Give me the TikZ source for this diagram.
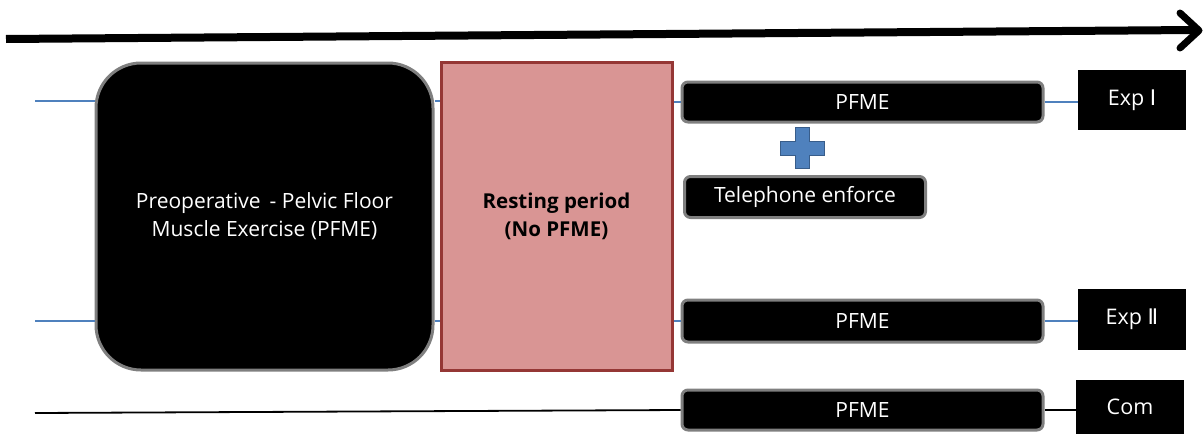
\documentclass[tikz,border=0pt]{standalone}
\usepackage{fontspec}
\setmainfont{Open Sans}
\newfontfamily\numfont{DejaVu Sans}
\usetikzlibrary{calc}
\definecolor{bordergray}{HTML}{7F7F7F}
\definecolor{linkblue}{HTML}{4F81BD}
\definecolor{plusblue}{HTML}{4F81BD}
\definecolor{plusedge}{HTML}{385D8A}
\definecolor{restfill}{HTML}{D99594}
\definecolor{restedge}{HTML}{953735}
\tikzset{
  blackbox/.style={draw=bordergray, line width=3pt, fill=black, text=white, rounded corners=6pt, inner sep=0pt, font=\fontsize{21}{28}\selectfont},
  labelbox/.style={fill=black, text=white, inner sep=0pt, font=\fontsize{21.5}{25}\selectfont},
  bluelink/.style={draw=linkblue, line width=1.5pt},
  blacklink/.style={draw=black, line width=1.8pt},
}
\begin{document}
\begin{tikzpicture}[x=1pt,y=-1pt]
\useasboundingbox (0,0) rectangle (1203,434);
% timeline arrow
\coordinate (tl) at (6,39);
\coordinate (tr) at (1194,30);
\draw[line width=8pt] (tl) -- (tr);
\draw[line width=7pt, line cap=round, line join=round] (1180,13) -- (1199,30.5) -- (1180,48);
% main boxes
\node[blackbox, rounded corners=45pt, minimum width=337pt, minimum height=307pt, align=center] (pre) at (264.5,216.5)
  {Preoperative\, - Pelvic Floor\\Muscle Exercise (PFME)};
\node[draw=restedge, line width=3pt, fill=restfill, minimum width=231pt, minimum height=308pt, inner sep=0pt, align=center, font=\fontsize{20.5}{28}\selectfont\bfseries] (rest) at (556.5,216)
  {Resting period\\(No PFME)};
\node[blackbox, minimum width=361pt, minimum height=40pt] (p1) at (862.5,102) {PFME};
\node[blackbox, minimum width=241pt, minimum height=41pt] (tel) at (805,197) {Telephone enforce};
\node[blackbox, minimum width=361pt, minimum height=42pt] (p2) at (862.5,321) {PFME};
\node[blackbox, minimum width=361pt, minimum height=40pt] (p3) at (862.5,410) {PFME};
\node[labelbox, minimum width=108pt, minimum height=60pt] (e1) at (1132,100) {Exp {\numfont Ⅰ}};
\node[labelbox, minimum width=108pt, minimum height=61pt] (e2) at (1132,319.5) {Exp {\numfont Ⅱ}};
\node[labelbox, minimum width=108pt, minimum height=54pt] (com) at (1130,407) {Com};
% plus sign
\fill[plusblue, draw=plusedge, line width=1pt]
  (795,127) -- (809,127) -- (809,141) -- (824,141) -- (824,155) -- (809,155) -- (809,168)
  -- (795,168) -- (795,155) -- (780,155) -- (780,141) -- (795,141) -- cycle;
% connectors
\coordinate (a1) at (35,101);
\coordinate (a2) at (35,321);
\coordinate (a3) at (35,413);
\draw[bluelink] (a1) -- (a1 -| pre.west);
\draw[bluelink] (a2) -- (a2 -| pre.west);
\draw[bluelink] (pre.east |- a1) -- (rest.west |- a1);
\draw[bluelink] (pre.east |- a2) -- (rest.west |- a2);
\draw[bluelink] (rest.east |- p1.west) -- (p1.west);
\draw[bluelink] (rest.east |- p2.west) -- (p2.west);
\draw[bluelink] (p1.east) -- (p1.east -| e1.west);
\draw[bluelink] (p2.east) -- (p2.east -| e2.west);
\draw[blacklink] (a3) -- (p3.west);
\draw[blacklink] (p3.east) -- (p3.east -| com.west);
\end{tikzpicture}
\end{document}
